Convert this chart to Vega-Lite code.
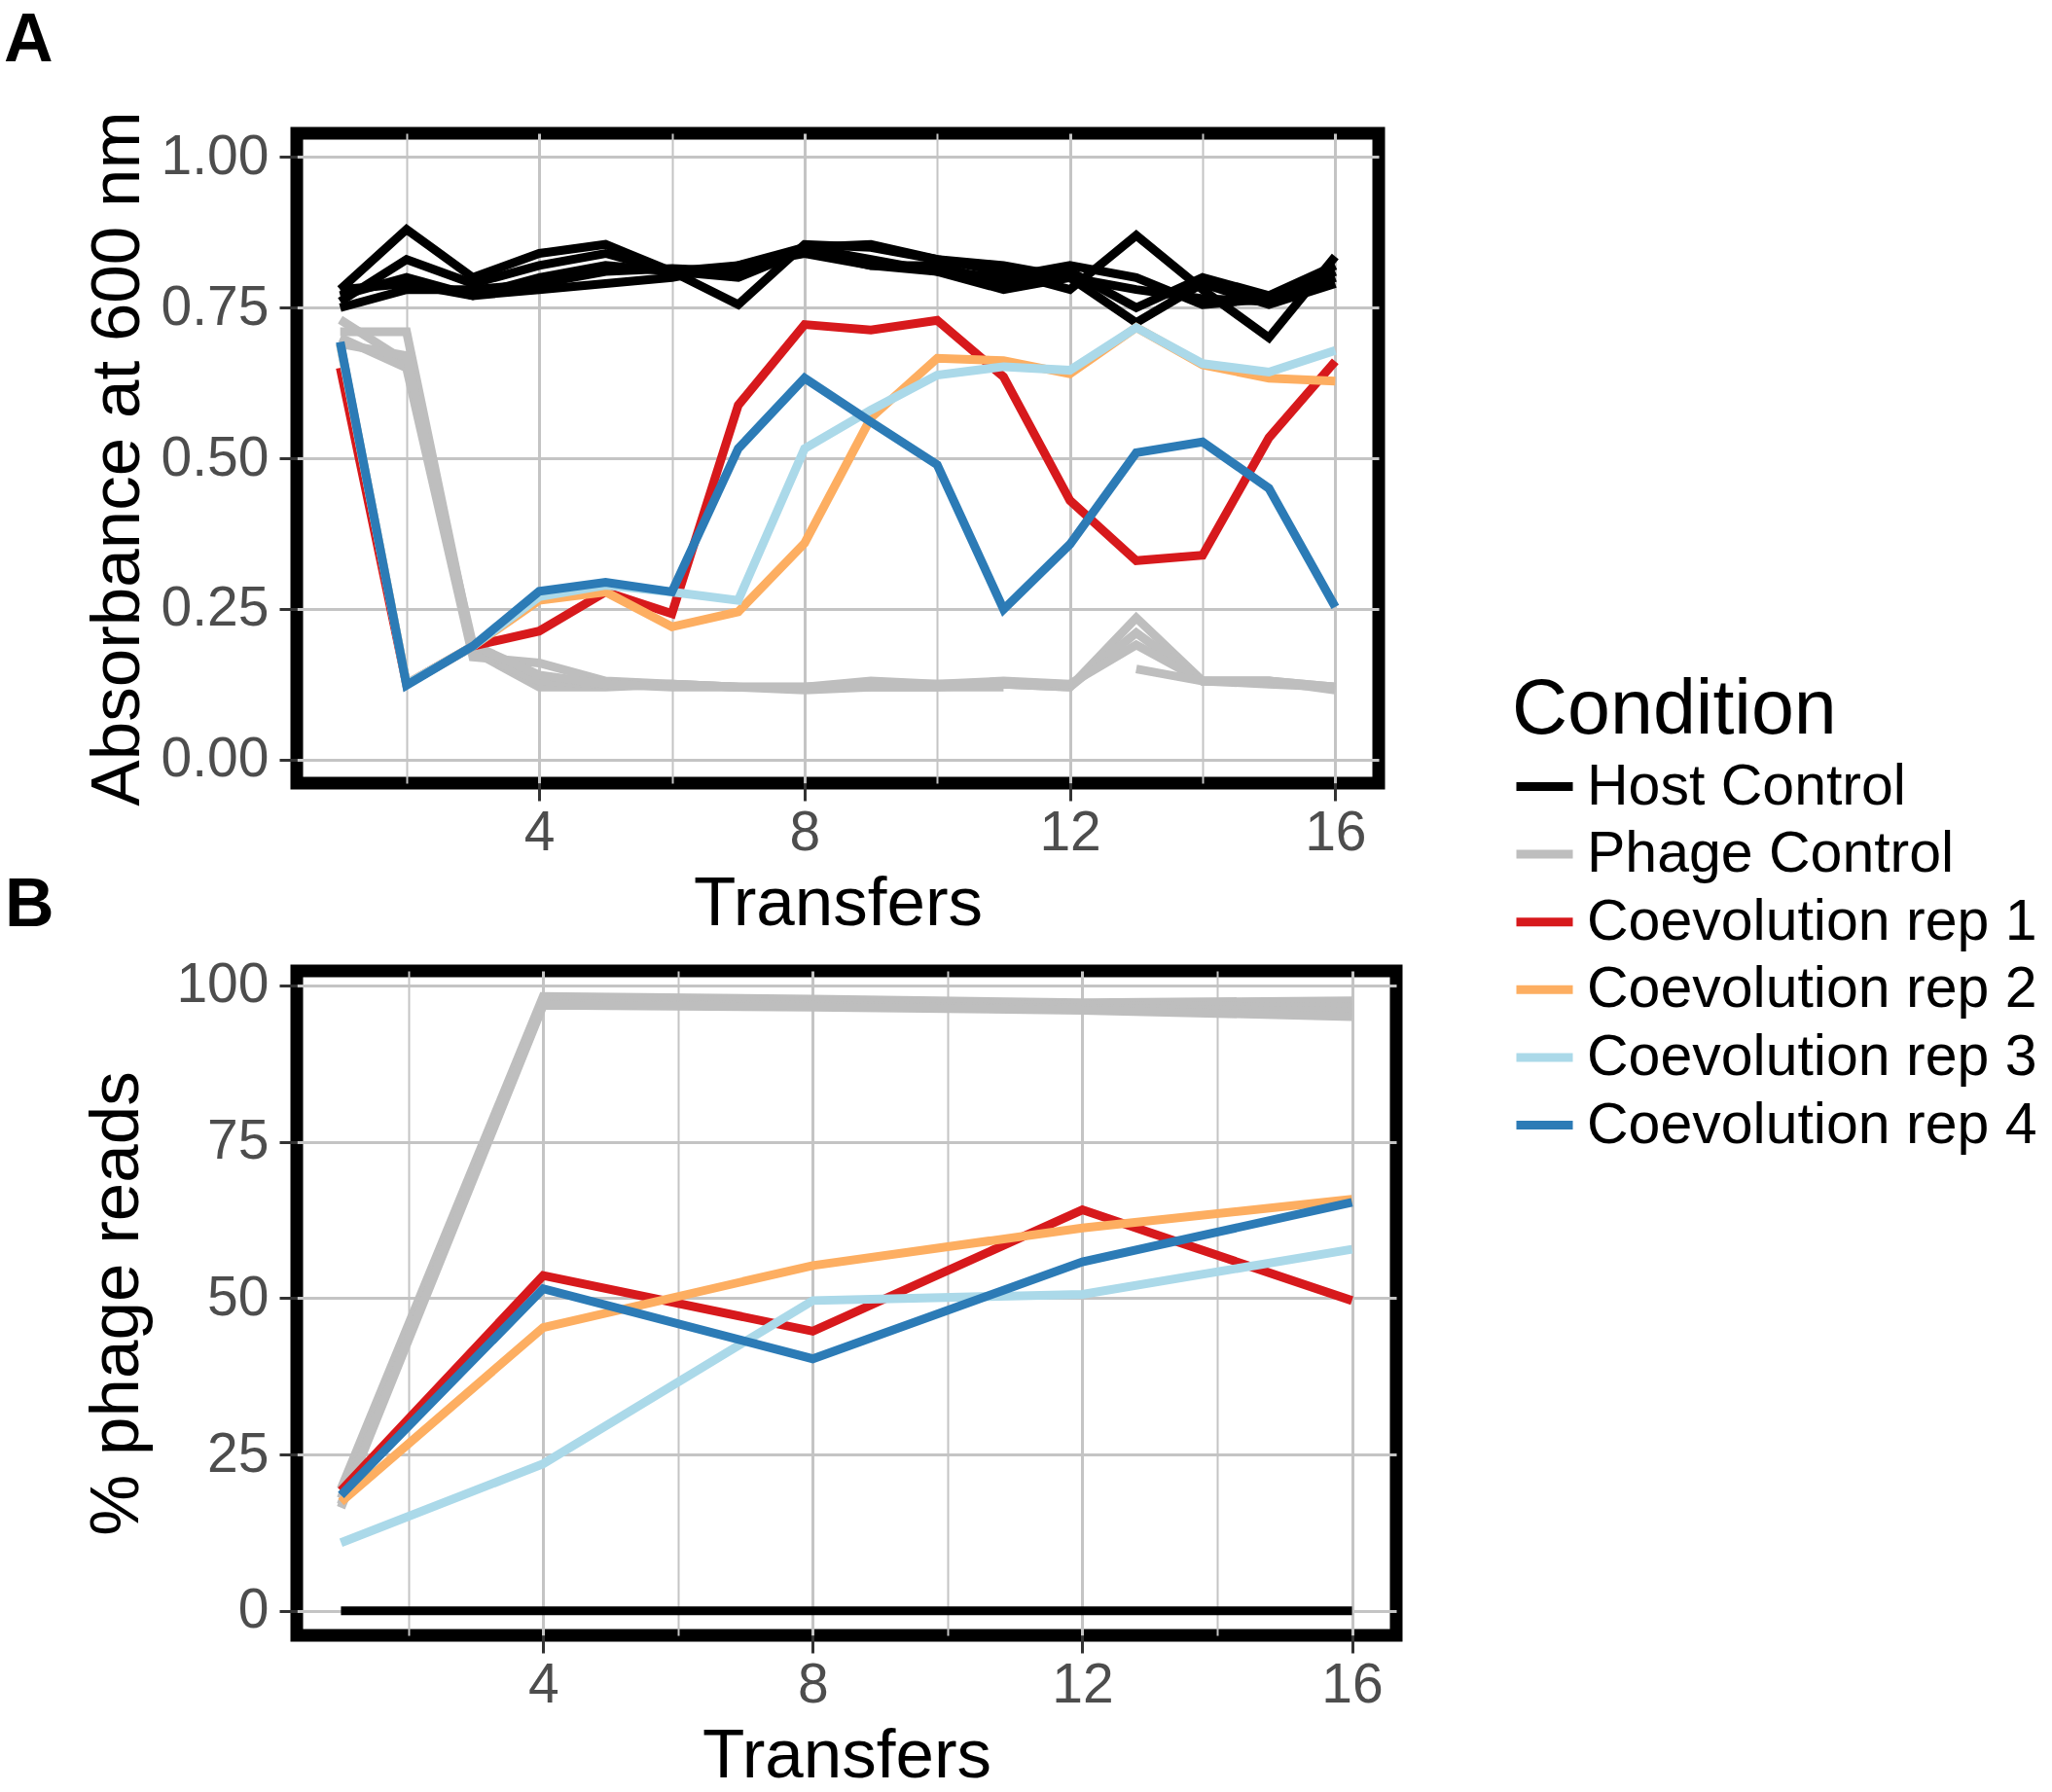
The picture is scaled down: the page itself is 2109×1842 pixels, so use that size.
{
  "$schema": "https://vega.github.io/schema/vega-lite/v6.json",
  "padding": {"left": -3, "top": 0, "right": 0, "bottom": 0},
  "background": "white",
  "config": {
    "font": "Liberation Sans",
    "view": {"stroke": "black", "strokeWidth": 13},
    "axis": {
      "domain": false,
      "labelFont": "Liberation Sans",
      "labelFontSize": 57,
      "labelColor": "#4d4d4d",
      "titleFont": "Liberation Sans",
      "titleFontSize": 71,
      "titleFontWeight": "normal",
      "titleColor": "black",
      "tickColor": "#333333",
      "tickWidth": 3,
      "tickSize": 18,
      "gridColor": "#c4c4c4",
      "gridWidth": 3,
      "labelOverlap": false,
      "labelFlush": false
    },
    "title": {"font": "Liberation Sans", "fontSize": 70, "fontWeight": "bold", "color": "black", "anchor": "start", "frame": "group", "baseline": "alphabetic"},
    "legend": {
      "orient": "none",
      "legendX": 1249,
      "legendY": 555,
      "titleFont": "Liberation Sans",
      "titleFontSize": 79,
      "titleFontWeight": "normal",
      "titleColor": "black",
      "titleLimit": 0,
      "labelFont": "Liberation Sans",
      "labelFontSize": 59,
      "labelColor": "black",
      "labelLimit": 0,
      "labelOffset": 10,
      "rowPadding": 5.6,
      "titlePadding": 4,
      "symbolSize": 3364,
      "symbolStrokeWidth": 9
    }
  },
  "datasets": {
    "absorbance": [
      {"cond": "Host Control", "rep": "H1", "t": 1, "v": 0.78}, {"cond": "Host Control", "rep": "H1", "t": 2, "v": 0.88}, {"cond": "Host Control", "rep": "H1", "t": 3, "v": 0.80}, {"cond": "Host Control", "rep": "H1", "t": 4, "v": 0.84}, {"cond": "Host Control", "rep": "H1", "t": 5, "v": 0.855}, {"cond": "Host Control", "rep": "H1", "t": 6, "v": 0.81}, {"cond": "Host Control", "rep": "H1", "t": 7, "v": 0.755}, {"cond": "Host Control", "rep": "H1", "t": 8, "v": 0.855}, {"cond": "Host Control", "rep": "H1", "t": 9, "v": 0.85}, {"cond": "Host Control", "rep": "H1", "t": 10, "v": 0.83}, {"cond": "Host Control", "rep": "H1", "t": 11, "v": 0.81}, {"cond": "Host Control", "rep": "H1", "t": 12, "v": 0.78}, {"cond": "Host Control", "rep": "H1", "t": 13, "v": 0.87}, {"cond": "Host Control", "rep": "H1", "t": 14, "v": 0.78}, {"cond": "Host Control", "rep": "H1", "t": 15, "v": 0.70}, {"cond": "Host Control", "rep": "H1", "t": 16, "v": 0.835},
      {"cond": "Host Control", "rep": "H2", "t": 1, "v": 0.76}, {"cond": "Host Control", "rep": "H2", "t": 2, "v": 0.83}, {"cond": "Host Control", "rep": "H2", "t": 3, "v": 0.79}, {"cond": "Host Control", "rep": "H2", "t": 4, "v": 0.82}, {"cond": "Host Control", "rep": "H2", "t": 5, "v": 0.84}, {"cond": "Host Control", "rep": "H2", "t": 6, "v": 0.81}, {"cond": "Host Control", "rep": "H2", "t": 7, "v": 0.82}, {"cond": "Host Control", "rep": "H2", "t": 8, "v": 0.85}, {"cond": "Host Control", "rep": "H2", "t": 9, "v": 0.855}, {"cond": "Host Control", "rep": "H2", "t": 10, "v": 0.83}, {"cond": "Host Control", "rep": "H2", "t": 11, "v": 0.82}, {"cond": "Host Control", "rep": "H2", "t": 12, "v": 0.80}, {"cond": "Host Control", "rep": "H2", "t": 13, "v": 0.78}, {"cond": "Host Control", "rep": "H2", "t": 14, "v": 0.765}, {"cond": "Host Control", "rep": "H2", "t": 15, "v": 0.76}, {"cond": "Host Control", "rep": "H2", "t": 16, "v": 0.80},
      {"cond": "Host Control", "rep": "H3", "t": 1, "v": 0.77}, {"cond": "Host Control", "rep": "H3", "t": 2, "v": 0.80}, {"cond": "Host Control", "rep": "H3", "t": 3, "v": 0.77}, {"cond": "Host Control", "rep": "H3", "t": 4, "v": 0.80}, {"cond": "Host Control", "rep": "H3", "t": 5, "v": 0.82}, {"cond": "Host Control", "rep": "H3", "t": 6, "v": 0.81}, {"cond": "Host Control", "rep": "H3", "t": 7, "v": 0.80}, {"cond": "Host Control", "rep": "H3", "t": 8, "v": 0.845}, {"cond": "Host Control", "rep": "H3", "t": 9, "v": 0.82}, {"cond": "Host Control", "rep": "H3", "t": 10, "v": 0.82}, {"cond": "Host Control", "rep": "H3", "t": 11, "v": 0.79}, {"cond": "Host Control", "rep": "H3", "t": 12, "v": 0.81}, {"cond": "Host Control", "rep": "H3", "t": 13, "v": 0.75}, {"cond": "Host Control", "rep": "H3", "t": 14, "v": 0.80}, {"cond": "Host Control", "rep": "H3", "t": 15, "v": 0.77}, {"cond": "Host Control", "rep": "H3", "t": 16, "v": 0.82},
      {"cond": "Host Control", "rep": "H4", "t": 1, "v": 0.78}, {"cond": "Host Control", "rep": "H4", "t": 2, "v": 0.79}, {"cond": "Host Control", "rep": "H4", "t": 3, "v": 0.77}, {"cond": "Host Control", "rep": "H4", "t": 4, "v": 0.78}, {"cond": "Host Control", "rep": "H4", "t": 5, "v": 0.79}, {"cond": "Host Control", "rep": "H4", "t": 6, "v": 0.80}, {"cond": "Host Control", "rep": "H4", "t": 7, "v": 0.82}, {"cond": "Host Control", "rep": "H4", "t": 8, "v": 0.84}, {"cond": "Host Control", "rep": "H4", "t": 9, "v": 0.82}, {"cond": "Host Control", "rep": "H4", "t": 10, "v": 0.81}, {"cond": "Host Control", "rep": "H4", "t": 11, "v": 0.78}, {"cond": "Host Control", "rep": "H4", "t": 12, "v": 0.80}, {"cond": "Host Control", "rep": "H4", "t": 13, "v": 0.725}, {"cond": "Host Control", "rep": "H4", "t": 14, "v": 0.79}, {"cond": "Host Control", "rep": "H4", "t": 15, "v": 0.755}, {"cond": "Host Control", "rep": "H4", "t": 16, "v": 0.79},
      {"cond": "Host Control", "rep": "H5", "t": 1, "v": 0.75}, {"cond": "Host Control", "rep": "H5", "t": 2, "v": 0.78}, {"cond": "Host Control", "rep": "H5", "t": 3, "v": 0.78}, {"cond": "Host Control", "rep": "H5", "t": 4, "v": 0.79}, {"cond": "Host Control", "rep": "H5", "t": 5, "v": 0.81}, {"cond": "Host Control", "rep": "H5", "t": 6, "v": 0.815}, {"cond": "Host Control", "rep": "H5", "t": 7, "v": 0.81}, {"cond": "Host Control", "rep": "H5", "t": 8, "v": 0.85}, {"cond": "Host Control", "rep": "H5", "t": 9, "v": 0.83}, {"cond": "Host Control", "rep": "H5", "t": 10, "v": 0.81}, {"cond": "Host Control", "rep": "H5", "t": 11, "v": 0.80}, {"cond": "Host Control", "rep": "H5", "t": 12, "v": 0.82}, {"cond": "Host Control", "rep": "H5", "t": 13, "v": 0.80}, {"cond": "Host Control", "rep": "H5", "t": 14, "v": 0.755}, {"cond": "Host Control", "rep": "H5", "t": 15, "v": 0.765}, {"cond": "Host Control", "rep": "H5", "t": 16, "v": 0.81},
      {"cond": "Phage Control", "rep": "P1", "t": 1, "v": 0.73}, {"cond": "Phage Control", "rep": "P1", "t": 2, "v": 0.66}, {"cond": "Phage Control", "rep": "P1", "t": 3, "v": 0.18}, {"cond": "Phage Control", "rep": "P1", "t": 4, "v": 0.12}, {"cond": "Phage Control", "rep": "P1", "t": 5, "v": 0.12}, {"cond": "Phage Control", "rep": "P1", "t": 6, "v": 0.125}, {"cond": "Phage Control", "rep": "P1", "t": 7, "v": 0.12}, {"cond": "Phage Control", "rep": "P1", "t": 8, "v": 0.115}, {"cond": "Phage Control", "rep": "P1", "t": 9, "v": 0.12}, {"cond": "Phage Control", "rep": "P1", "t": 10, "v": 0.12}, {"cond": "Phage Control", "rep": "P1", "t": 11, "v": 0.125}, {"cond": "Phage Control", "rep": "P1", "t": 12, "v": 0.12}, {"cond": "Phage Control", "rep": "P1", "t": 13, "v": 0.235}, {"cond": "Phage Control", "rep": "P1", "t": 14, "v": 0.13}, {"cond": "Phage Control", "rep": "P1", "t": 15, "v": 0.13}, {"cond": "Phage Control", "rep": "P1", "t": 16, "v": 0.12},
      {"cond": "Phage Control", "rep": "P2", "t": 1, "v": 0.71}, {"cond": "Phage Control", "rep": "P2", "t": 2, "v": 0.71}, {"cond": "Phage Control", "rep": "P2", "t": 3, "v": 0.18}, {"cond": "Phage Control", "rep": "P2", "t": 4, "v": 0.13}, {"cond": "Phage Control", "rep": "P2", "t": 5, "v": 0.125}, {"cond": "Phage Control", "rep": "P2", "t": 6, "v": 0.125}, {"cond": "Phage Control", "rep": "P2", "t": 7, "v": 0.12}, {"cond": "Phage Control", "rep": "P2", "t": 8, "v": 0.12}, {"cond": "Phage Control", "rep": "P2", "t": 9, "v": 0.125}, {"cond": "Phage Control", "rep": "P2", "t": 10, "v": 0.125}, {"cond": "Phage Control", "rep": "P2", "t": 11, "v": 0.125}, {"cond": "Phage Control", "rep": "P2", "t": 12, "v": 0.12}, {"cond": "Phage Control", "rep": "P2", "t": 13, "v": 0.21}, {"cond": "Phage Control", "rep": "P2", "t": 14, "v": 0.13}, {"cond": "Phage Control", "rep": "P2", "t": 15, "v": 0.125}, {"cond": "Phage Control", "rep": "P2", "t": 16, "v": 0.12},
      {"cond": "Phage Control", "rep": "P3", "t": 1, "v": 0.70}, {"cond": "Phage Control", "rep": "P3", "t": 2, "v": 0.65}, {"cond": "Phage Control", "rep": "P3", "t": 3, "v": 0.17}, {"cond": "Phage Control", "rep": "P3", "t": 4, "v": 0.16}, {"cond": "Phage Control", "rep": "P3", "t": 5, "v": 0.13}, {"cond": "Phage Control", "rep": "P3", "t": 6, "v": 0.125}, {"cond": "Phage Control", "rep": "P3", "t": 7, "v": 0.12}, {"cond": "Phage Control", "rep": "P3", "t": 8, "v": 0.12}, {"cond": "Phage Control", "rep": "P3", "t": 9, "v": 0.13}, {"cond": "Phage Control", "rep": "P3", "t": 10, "v": 0.125}, {"cond": "Phage Control", "rep": "P3", "t": 11, "v": 0.13}, {"cond": "Phage Control", "rep": "P3", "t": 12, "v": 0.125}, {"cond": "Phage Control", "rep": "P3", "t": 13, "v": 0.19}, {"cond": "Phage Control", "rep": "P3", "t": 14, "v": 0.13}, {"cond": "Phage Control", "rep": "P3", "t": 15, "v": 0.13}, {"cond": "Phage Control", "rep": "P3", "t": 16, "v": 0.115},
      {"cond": "Phage Control", "rep": "P4a", "t": 1, "v": 0.69}, {"cond": "Phage Control", "rep": "P4a", "t": 2, "v": 0.67}, {"cond": "Phage Control", "rep": "P4a", "t": 3, "v": 0.19}, {"cond": "Phage Control", "rep": "P4a", "t": 4, "v": 0.14}, {"cond": "Phage Control", "rep": "P4a", "t": 5, "v": 0.125}, {"cond": "Phage Control", "rep": "P4a", "t": 6, "v": 0.12}, {"cond": "Phage Control", "rep": "P4a", "t": 7, "v": 0.12}, {"cond": "Phage Control", "rep": "P4a", "t": 8, "v": 0.12}, {"cond": "Phage Control", "rep": "P4a", "t": 9, "v": 0.12}, {"cond": "Phage Control", "rep": "P4a", "t": 10, "v": 0.12}, {"cond": "Phage Control", "rep": "P4a", "t": 11, "v": 0.12},
      {"cond": "Phage Control", "rep": "P4b", "t": 13, "v": 0.15}, {"cond": "Phage Control", "rep": "P4b", "t": 14, "v": 0.13}, {"cond": "Phage Control", "rep": "P4b", "t": 15, "v": 0.13}, {"cond": "Phage Control", "rep": "P4b", "t": 16, "v": 0.12},
      {"cond": "Coevolution rep 1", "rep": "C1", "t": 1, "v": 0.65}, {"cond": "Coevolution rep 1", "rep": "C1", "t": 2, "v": 0.125}, {"cond": "Coevolution rep 1", "rep": "C1", "t": 3, "v": 0.188}, {"cond": "Coevolution rep 1", "rep": "C1", "t": 4, "v": 0.213}, {"cond": "Coevolution rep 1", "rep": "C1", "t": 5, "v": 0.278}, {"cond": "Coevolution rep 1", "rep": "C1", "t": 6, "v": 0.242}, {"cond": "Coevolution rep 1", "rep": "C1", "t": 7, "v": 0.588}, {"cond": "Coevolution rep 1", "rep": "C1", "t": 8, "v": 0.722}, {"cond": "Coevolution rep 1", "rep": "C1", "t": 9, "v": 0.713}, {"cond": "Coevolution rep 1", "rep": "C1", "t": 10, "v": 0.729}, {"cond": "Coevolution rep 1", "rep": "C1", "t": 11, "v": 0.635}, {"cond": "Coevolution rep 1", "rep": "C1", "t": 12, "v": 0.43}, {"cond": "Coevolution rep 1", "rep": "C1", "t": 13, "v": 0.33}, {"cond": "Coevolution rep 1", "rep": "C1", "t": 14, "v": 0.339}, {"cond": "Coevolution rep 1", "rep": "C1", "t": 15, "v": 0.534}, {"cond": "Coevolution rep 1", "rep": "C1", "t": 16, "v": 0.661},
      {"cond": "Coevolution rep 2", "rep": "C2", "t": 1, "v": 0.69}, {"cond": "Coevolution rep 2", "rep": "C2", "t": 2, "v": 0.125}, {"cond": "Coevolution rep 2", "rep": "C2", "t": 3, "v": 0.188}, {"cond": "Coevolution rep 2", "rep": "C2", "t": 4, "v": 0.264}, {"cond": "Coevolution rep 2", "rep": "C2", "t": 5, "v": 0.278}, {"cond": "Coevolution rep 2", "rep": "C2", "t": 6, "v": 0.22}, {"cond": "Coevolution rep 2", "rep": "C2", "t": 7, "v": 0.245}, {"cond": "Coevolution rep 2", "rep": "C2", "t": 8, "v": 0.359}, {"cond": "Coevolution rep 2", "rep": "C2", "t": 9, "v": 0.567}, {"cond": "Coevolution rep 2", "rep": "C2", "t": 10, "v": 0.666}, {"cond": "Coevolution rep 2", "rep": "C2", "t": 11, "v": 0.662}, {"cond": "Coevolution rep 2", "rep": "C2", "t": 12, "v": 0.64}, {"cond": "Coevolution rep 2", "rep": "C2", "t": 13, "v": 0.717}, {"cond": "Coevolution rep 2", "rep": "C2", "t": 14, "v": 0.655}, {"cond": "Coevolution rep 2", "rep": "C2", "t": 15, "v": 0.633}, {"cond": "Coevolution rep 2", "rep": "C2", "t": 16, "v": 0.628},
      {"cond": "Coevolution rep 3", "rep": "C3", "t": 1, "v": 0.69}, {"cond": "Coevolution rep 3", "rep": "C3", "t": 2, "v": 0.125}, {"cond": "Coevolution rep 3", "rep": "C3", "t": 3, "v": 0.188}, {"cond": "Coevolution rep 3", "rep": "C3", "t": 4, "v": 0.27}, {"cond": "Coevolution rep 3", "rep": "C3", "t": 5, "v": 0.289}, {"cond": "Coevolution rep 3", "rep": "C3", "t": 6, "v": 0.278}, {"cond": "Coevolution rep 3", "rep": "C3", "t": 7, "v": 0.264}, {"cond": "Coevolution rep 3", "rep": "C3", "t": 8, "v": 0.516}, {"cond": "Coevolution rep 3", "rep": "C3", "t": 9, "v": 0.58}, {"cond": "Coevolution rep 3", "rep": "C3", "t": 10, "v": 0.638}, {"cond": "Coevolution rep 3", "rep": "C3", "t": 11, "v": 0.652}, {"cond": "Coevolution rep 3", "rep": "C3", "t": 12, "v": 0.646}, {"cond": "Coevolution rep 3", "rep": "C3", "t": 13, "v": 0.717}, {"cond": "Coevolution rep 3", "rep": "C3", "t": 14, "v": 0.657}, {"cond": "Coevolution rep 3", "rep": "C3", "t": 15, "v": 0.643}, {"cond": "Coevolution rep 3", "rep": "C3", "t": 16, "v": 0.679},
      {"cond": "Coevolution rep 4", "rep": "C4", "t": 1, "v": 0.693}, {"cond": "Coevolution rep 4", "rep": "C4", "t": 2, "v": 0.123}, {"cond": "Coevolution rep 4", "rep": "C4", "t": 3, "v": 0.188}, {"cond": "Coevolution rep 4", "rep": "C4", "t": 4, "v": 0.279}, {"cond": "Coevolution rep 4", "rep": "C4", "t": 5, "v": 0.294}, {"cond": "Coevolution rep 4", "rep": "C4", "t": 6, "v": 0.278}, {"cond": "Coevolution rep 4", "rep": "C4", "t": 7, "v": 0.516}, {"cond": "Coevolution rep 4", "rep": "C4", "t": 8, "v": 0.633}, {"cond": "Coevolution rep 4", "rep": "C4", "t": 9, "v": 0.56}, {"cond": "Coevolution rep 4", "rep": "C4", "t": 10, "v": 0.489}, {"cond": "Coevolution rep 4", "rep": "C4", "t": 11, "v": 0.249}, {"cond": "Coevolution rep 4", "rep": "C4", "t": 12, "v": 0.357}, {"cond": "Coevolution rep 4", "rep": "C4", "t": 13, "v": 0.509}, {"cond": "Coevolution rep 4", "rep": "C4", "t": 14, "v": 0.527}, {"cond": "Coevolution rep 4", "rep": "C4", "t": 15, "v": 0.45}, {"cond": "Coevolution rep 4", "rep": "C4", "t": 16, "v": 0.253}
    ],
    "reads": [
      {"cond": "Host Control", "rep": "H1", "t": 1, "v": 0}, {"cond": "Host Control", "rep": "H1", "t": 4, "v": 0}, {"cond": "Host Control", "rep": "H1", "t": 8, "v": 0}, {"cond": "Host Control", "rep": "H1", "t": 12, "v": 0}, {"cond": "Host Control", "rep": "H1", "t": 16, "v": 0},
      {"cond": "Phage Control", "rep": "P1", "t": 1, "v": 19.5}, {"cond": "Phage Control", "rep": "P1", "t": 4, "v": 98.2}, {"cond": "Phage Control", "rep": "P1", "t": 8, "v": 97.8}, {"cond": "Phage Control", "rep": "P1", "t": 12, "v": 97.2}, {"cond": "Phage Control", "rep": "P1", "t": 16, "v": 97.5},
      {"cond": "Phage Control", "rep": "P2", "t": 1, "v": 18}, {"cond": "Phage Control", "rep": "P2", "t": 4, "v": 97.6}, {"cond": "Phage Control", "rep": "P2", "t": 8, "v": 97.3}, {"cond": "Phage Control", "rep": "P2", "t": 12, "v": 96.8}, {"cond": "Phage Control", "rep": "P2", "t": 16, "v": 96.5},
      {"cond": "Phage Control", "rep": "P3", "t": 1, "v": 17}, {"cond": "Phage Control", "rep": "P3", "t": 4, "v": 97}, {"cond": "Phage Control", "rep": "P3", "t": 8, "v": 96.8}, {"cond": "Phage Control", "rep": "P3", "t": 12, "v": 96.3}, {"cond": "Phage Control", "rep": "P3", "t": 16, "v": 95.8},
      {"cond": "Phage Control", "rep": "P4", "t": 1, "v": 16.5}, {"cond": "Phage Control", "rep": "P4", "t": 4, "v": 96.8}, {"cond": "Phage Control", "rep": "P4", "t": 8, "v": 96.5}, {"cond": "Phage Control", "rep": "P4", "t": 12, "v": 96}, {"cond": "Phage Control", "rep": "P4", "t": 16, "v": 95},
      {"cond": "Coevolution rep 1", "rep": "C1", "t": 1, "v": 19.2}, {"cond": "Coevolution rep 1", "rep": "C1", "t": 4, "v": 53.6}, {"cond": "Coevolution rep 1", "rep": "C1", "t": 8, "v": 44.7}, {"cond": "Coevolution rep 1", "rep": "C1", "t": 12, "v": 64.1}, {"cond": "Coevolution rep 1", "rep": "C1", "t": 16, "v": 49.6},
      {"cond": "Coevolution rep 2", "rep": "C2", "t": 1, "v": 17.4}, {"cond": "Coevolution rep 2", "rep": "C2", "t": 4, "v": 45.3}, {"cond": "Coevolution rep 2", "rep": "C2", "t": 8, "v": 55.2}, {"cond": "Coevolution rep 2", "rep": "C2", "t": 12, "v": 61.2}, {"cond": "Coevolution rep 2", "rep": "C2", "t": 16, "v": 65.8},
      {"cond": "Coevolution rep 3", "rep": "C3", "t": 1, "v": 10.9}, {"cond": "Coevolution rep 3", "rep": "C3", "t": 4, "v": 23.5}, {"cond": "Coevolution rep 3", "rep": "C3", "t": 8, "v": 49.6}, {"cond": "Coevolution rep 3", "rep": "C3", "t": 12, "v": 50.6}, {"cond": "Coevolution rep 3", "rep": "C3", "t": 16, "v": 57.8},
      {"cond": "Coevolution rep 4", "rep": "C4", "t": 1, "v": 18.5}, {"cond": "Coevolution rep 4", "rep": "C4", "t": 4, "v": 51.5}, {"cond": "Coevolution rep 4", "rep": "C4", "t": 8, "v": 40.3}, {"cond": "Coevolution rep 4", "rep": "C4", "t": 12, "v": 55.8}, {"cond": "Coevolution rep 4", "rep": "C4", "t": 16, "v": 65.3}
    ]
  },
  "spacing": -82,
  "vconcat": [
    {
      "title": {"text": "A", "dx": -301, "offset": 36},
      "width": 1112,
      "height": 668,
      "data": {"name": "absorbance"},
      "mark": {"type": "line", "strokeWidth": 9, "clip": true},
      "encoding": {
        "x": {
          "field": "t",
          "type": "quantitative",
          "title": "Transfers",
          "scale": {"domain": [0.345, 16.655], "nice": false, "zero": false},
          "axis": {
            "values": [2, 4, 6, 8, 10, 12, 14, 16],
            "labelExpr": "datum.value % 4 === 0 ? datum.label : ''",
            "tickOpacity": {"condition": {"test": "datum.value % 4 === 0", "value": 1}, "value": 0},
            "gridWidth": {"condition": {"test": "datum.value % 4 === 0", "value": 3}, "value": 2},
            "labelPadding": 5,
            "titlePadding": 10
          }
        },
        "y": {
          "field": "v",
          "type": "quantitative",
          "title": "Absorbance at 600 nm",
          "scale": {"domain": [-0.0395, 1.0395], "nice": false, "zero": false},
          "axis": {"values": [0, 0.25, 0.5, 0.75, 1], "format": ".2f", "labelPadding": 11, "titlePadding": 8}
        },
        "color": {
          "field": "cond",
          "type": "nominal",
          "scale": {
            "domain": ["Host Control", "Phage Control", "Coevolution rep 1", "Coevolution rep 2", "Coevolution rep 3", "Coevolution rep 4"],
            "range": ["#000000", "#bebebe", "#d7191c", "#fdae61", "#abd9e9", "#2c7bb6"]
          },
          "legend": {
            "title": "Condition",
            "symbolType": "stroke"
          }
        },
        "detail": {"field": "rep"}
      }
    },
    {
      "title": {"text": "B", "dx": -300, "offset": 17},
      "width": 1130,
      "height": 683,
      "data": {"name": "reads"},
      "mark": {"type": "line", "strokeWidth": 9, "clip": true},
      "encoding": {
        "x": {
          "field": "t",
          "type": "quantitative",
          "title": "Transfers",
          "scale": {"domain": [0.344, 16.656], "nice": false, "zero": false},
          "axis": {
            "values": [2, 4, 6, 8, 10, 12, 14, 16],
            "labelExpr": "datum.value % 4 === 0 ? datum.label : ''",
            "tickOpacity": {"condition": {"test": "datum.value % 4 === 0", "value": 1}, "value": 0},
            "gridWidth": {"condition": {"test": "datum.value % 4 === 0", "value": 3}, "value": 2},
            "labelPadding": 5,
            "titlePadding": 10
          }
        },
        "y": {
          "field": "v",
          "type": "quantitative",
          "title": "% phage reads",
          "scale": {"domain": [-3.91, 102.29], "nice": false, "zero": false},
          "axis": {"values": [0, 25, 50, 75, 100], "labelPadding": 11, "titlePadding": 24}
        },
        "color": {"field": "cond", "type": "nominal"},
        "detail": {"field": "rep"}
      }
    }
  ]
}
